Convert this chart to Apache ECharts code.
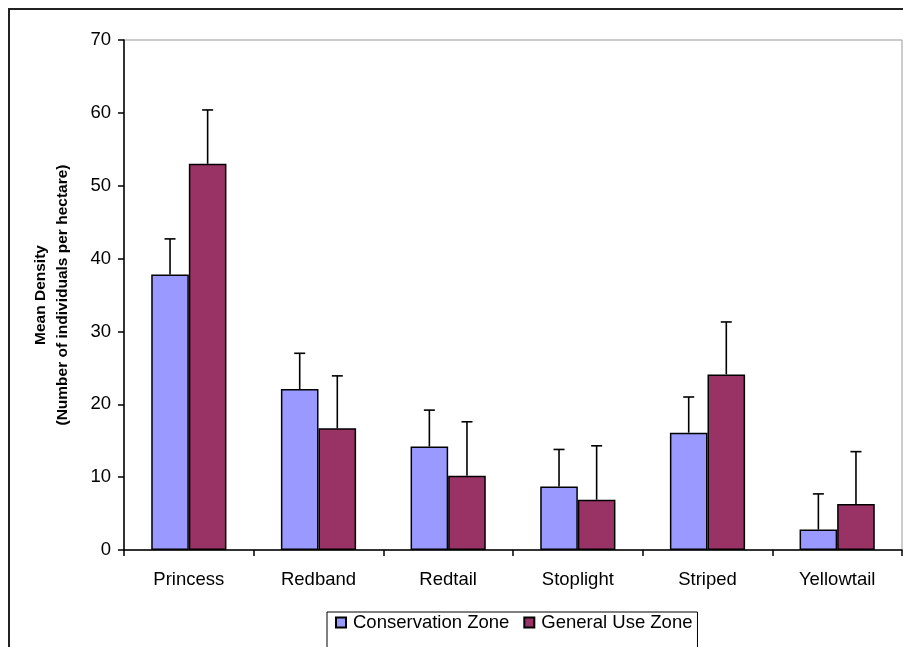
<!DOCTYPE html>
<html>
<head>
<meta charset="utf-8">
<script src="https://cdn.jsdelivr.net/npm/echarts@6/dist/echarts.min.js"></script>
<style>
  html, body { margin: 0; padding: 0; background: #fff; }
  #chart { width: 903px; height: 647px; }
</style>
</head>
<body>
<div id="chart"></div>
<script>
// values
const species = ["Princess", "Redband", "Redtail", "Stoplight", "Striped", "Yellowtail"];
const conservation = [37.8, 22.1, 14.2, 8.7, 16.1, 2.8];
const conservationErr = [4.9, 4.9, 5.0, 5.1, 4.9, 4.9];
const generalUse = [53.0, 16.7, 10.2, 6.9, 24.1, 6.3];
const generalUseErr = [7.4, 7.2, 7.4, 7.4, 7.2, 7.2];
const yTicks = [0, 10, 20, 30, 40, 50, 60, 70];

const FONT = "Liberation Sans, Arial, sans-serif";
const GAP = 0.42;

function errorBars(side) {
    return function (params, api) {
        const band = api.size([1, 0])[0];
        const barW = band * (1 - GAP) / 2;
        const base = api.coord([api.value(0), api.value(1)]);
        const top = api.coord([api.value(0), api.value(2)]);
        const x = base[0] + side * barW / 2;
        const style = { stroke: "#000", lineWidth: 1.6 };
        return {
            type: "group",
            children: [
                { type: "line", shape: { x1: x, y1: base[1], x2: x, y2: top[1] }, style: style },
                { type: "line", shape: { x1: x - 5.5, y1: top[1], x2: x + 5.5, y2: top[1] }, style: style }
            ]
        };
    };
}

const chart = echarts.init(document.getElementById("chart"));
chart.setOption({
    backgroundColor: "#fff",
    animation: false,
    textStyle: { fontFamily: FONT },
    graphic: [{
        type: "rect",
        shape: { x: 9, y: 9, width: 2000, height: 2000 },
        style: { fill: null, stroke: "#222", lineWidth: 2 },
        silent: true
    }],
    grid: {
        left: 124, top: 40, right: 1, bottom: 97,
        show: true, borderColor: "#999", borderWidth: 1
    },
    legend: {
        left: 327, top: 612,
        padding: [1, 5, 30, 8],
        itemGap: 14,
        itemWidth: 10, itemHeight: 10,
        icon: "rect",
        borderColor: "#000", borderWidth: 1,
        textStyle: { fontFamily: FONT, fontSize: 18.5, color: "#000", padding: [0, 0, 0, 2] },
        data: ["Conservation Zone", "General Use Zone"]
    },
    xAxis: {
        type: "category",
        data: species,
        axisLine: { lineStyle: { color: "#000", width: 1.5 } },
        axisTick: { show: true, length: 6, lineStyle: { color: "#000", width: 1.5 } },
        axisLabel: { color: "#000", fontSize: 18.5, fontFamily: FONT, margin: 20 }
    },
    yAxis: {
        type: "value",
        min: yTicks[0], max: yTicks[yTicks.length - 1], interval: 10,
        name: "Mean Density\n(Number of individuals per hectare)",
        nameLocation: "middle",
        nameRotate: 90,
        nameGap: 50,
        nameTextStyle: { fontFamily: FONT, fontSize: 15.5, fontWeight: "bold", color: "#000", lineHeight: 22, align: "center" },
        axisLine: { show: true, lineStyle: { color: "#000", width: 1.5 } },
        axisTick: { show: true, length: 6, lineStyle: { color: "#000", width: 1.5 } },
        axisLabel: { color: "#000", fontSize: 18.5, fontFamily: FONT, margin: 13 },
        splitLine: { show: false }
    },
    series: [
        {
            name: "Conservation Zone",
            type: "bar",
            data: conservation,
            barGap: "0%",
            barCategoryGap: (GAP * 100) + "%",
            itemStyle: { color: "#9999FF", borderColor: "#000", borderWidth: 1.5 }
        },
        {
            name: "General Use Zone",
            type: "bar",
            data: generalUse,
            barGap: "0%",
            barCategoryGap: (GAP * 100) + "%",
            itemStyle: { color: "#993366", borderColor: "#000", borderWidth: 1.5 }
        },
        {
            type: "custom",
            renderItem: errorBars(-1),
            data: conservation.map((v, i) => [i, v, v + conservationErr[i]]),
            z: 5
        },
        {
            type: "custom",
            renderItem: errorBars(1),
            data: generalUse.map((v, i) => [i, v, v + generalUseErr[i]]),
            z: 5
        }
    ]
});
</script>
</body>
</html>
